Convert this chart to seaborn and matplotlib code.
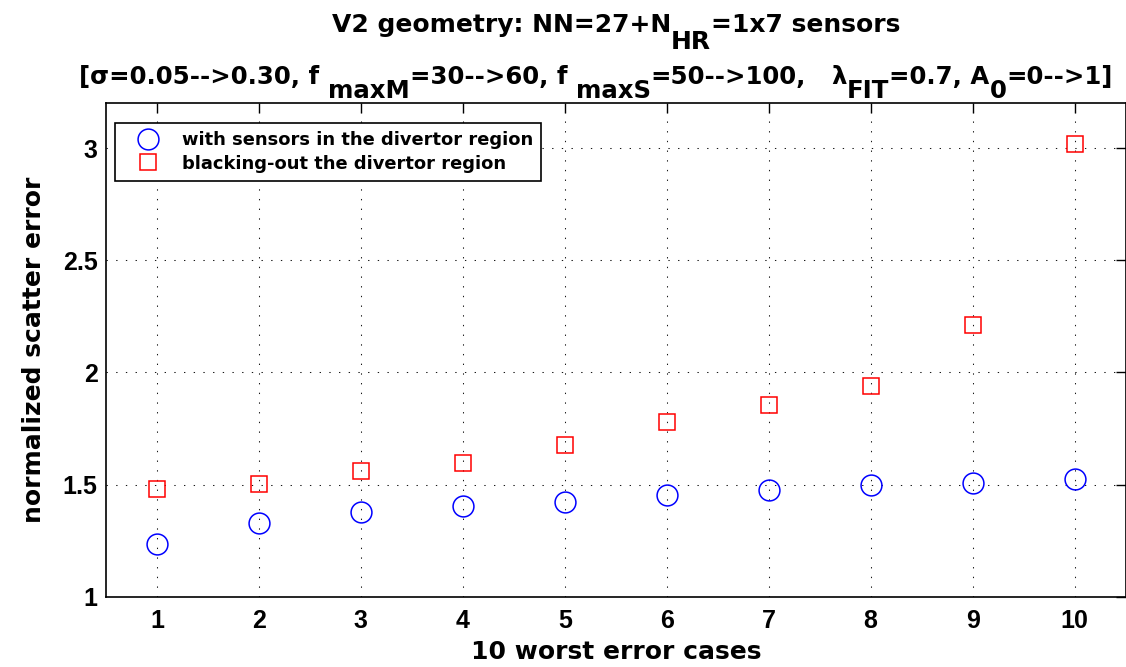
import matplotlib
matplotlib.use("Agg")
import matplotlib.pyplot as plt
import seaborn as sns
import pandas as pd
from matplotlib.transforms import IdentityTransform

# Ten worst error cases, normalized scatter error for the two sensor setups
cases = [1, 2, 3, 4, 5, 6, 7, 8, 9, 10]
with_divertor = [1.233, 1.327, 1.379, 1.405, 1.421, 1.454, 1.476, 1.497, 1.508, 1.524]
blacked_out = [1.482, 1.504, 1.562, 1.596, 1.677, 1.778, 1.856, 1.940, 2.213, 3.017]
y_ticks = [1, 1.5, 2, 2.5, 3]
y_tick_labels = ["1", "1.5", "2", "2.5", "3"]

label_with = "with sensors in the divertor region"
label_black = "blacking-out the divertor region"

# title pieces: (text, lowered as subscript, spaces after)
title_line1 = [("V2 geometry: NN=27+N", False, 0), ("HR", True, 0), ("=1x7 sensors", False, 0)]
title_line2 = [("[σ=0.05-->0.30, f", False, 1), ("maxM", True, 0),
               ("=30-->60, f", False, 1), ("maxS", True, 0),
               ("=50-->100,", False, 3), ("λ", False, 0), ("FIT", True, 0),
               ("=0.7, A", False, 0), ("0", True, 0), ("=0-->1]", False, 0)]

TEXT_FONT = ["DejaVu Sans"]
TICK_FONT = ["Liberation Sans", "DejaVu Sans"]

sns.set_theme(style="white")
plt.rcParams["font.family"] = TICK_FONT
plt.rcParams["font.weight"] = "bold"
plt.rcParams["text.color"] = "black"
plt.rcParams["axes.labelcolor"] = "black"
plt.rcParams["xtick.color"] = "black"
plt.rcParams["ytick.color"] = "black"

df = pd.DataFrame({"case": cases, "with": with_divertor, "black": blacked_out})

fig = plt.figure(figsize=(11.26, 6.67), dpi=100)
ax = fig.add_axes([0.0941, 0.1054, 0.9055, 0.7397])

sns.lineplot(data=df, x="case", y="with", ax=ax, linestyle="", marker="o",
             markersize=15, markerfacecolor="none", markeredgecolor="#0000ff",
             markeredgewidth=1.1, color="#0000ff", label=label_with)
sns.lineplot(data=df, x="case", y="black", ax=ax, linestyle="", marker="s",
             markersize=12, markerfacecolor="none", markeredgecolor="#ff0000",
             markeredgewidth=1.1, color="#ff0000", label=label_black)

ax.set_xlim(0.5, 10.5)
ax.set_ylim(1, 3.2)
ax.set_xticks(cases)
ax.set_yticks(y_ticks)
ax.set_yticklabels(y_tick_labels)

ax.grid(True, color="black", linestyle=(0, (1.3, 8)), linewidth=0.75, alpha=0.9)
ax.tick_params(direction="in", length=7, width=1, top=True, right=True,
               labelsize=18, colors="black", labelcolor="black")
ax.tick_params(axis="x", pad=9)
ax.tick_params(axis="y", pad=6)
for lbl in ax.get_xticklabels() + ax.get_yticklabels():
    lbl.set_fontweight("bold")
for s in ax.spines.values():
    s.set_color("black")
    s.set_linewidth(1.2)

ax.set_xlabel("10 worst error cases", fontsize=18, fontweight="bold",
              family=TEXT_FONT, color="black", labelpad=5)
ax.set_ylabel("normalized scatter error", fontsize=18, fontweight="bold",
              family=TEXT_FONT, color="black", labelpad=12)

leg = ax.legend(loc="upper left", frameon=True, fancybox=False,
                prop={"family": TEXT_FONT, "weight": "bold", "size": 12.9},
                edgecolor="black", framealpha=1, borderpad=0.45,
                borderaxespad=0, handlelength=2.8, handletextpad=0.5,
                labelspacing=0.3, bbox_to_anchor=(0.0088, 0.9595))
leg.get_frame().set_linewidth(1.2)
for t in leg.get_texts():
    t.set_color("black")


def rich_line(segments, center_x, baseline_y, size, drop):
    """Draw a line of text whose subscripts keep the full font size."""
    renderer = fig.canvas.get_renderer()
    kw = dict(fontsize=size, fontweight="bold", family=TEXT_FONT)
    probe = fig.text(0, 0, "a a", **kw)
    probe2 = fig.text(0, 0, "aa", **kw)
    space = probe.get_window_extent(renderer).width - probe2.get_window_extent(renderer).width
    probe.remove()
    probe2.remove()
    placed = []
    x = 0.0
    for text, sub, gap in segments:
        t = fig.text(0, 0, text, color="black", transform=IdentityTransform(),
                     ha="left", va="baseline", **kw)
        placed.append((t, x, sub))
        x += t.get_window_extent(renderer).width + gap * space
    x0 = center_x - x / 2
    for t, dx, sub in placed:
        t.set_position((x0 + dx, baseline_y - (drop if sub else 0)))


H = 667
rich_line(title_line1, 616, H - 32, 18, 17)
rich_line(title_line2, 596, H - 84, 17.6, 14)

fig.savefig("out.png", dpi=100)
